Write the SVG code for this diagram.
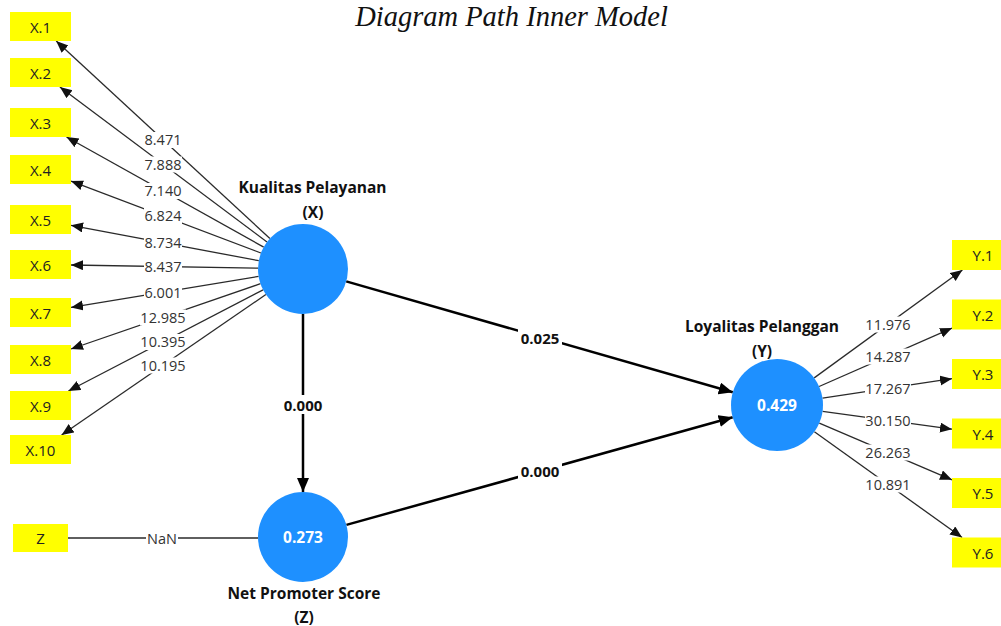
<svg xmlns="http://www.w3.org/2000/svg" width="1001" height="626" viewBox="0 0 1001 626">
<style>
.bg{fill:#ffffff}
.box{fill:#ffff00}
.lv{fill:#1e90ff}
.bt{font-family:"Open Sans","Noto Sans",sans-serif;font-size:15px;fill:#222;text-anchor:middle;dominant-baseline:central}
.ind{stroke:#2a2a2a;stroke-width:1.3;fill:none}
.str{stroke:#000;stroke-width:2.5;fill:none}
.il{font-family:"Open Sans","Noto Sans",sans-serif;font-size:14.5px;fill:#333;text-anchor:middle;dominant-baseline:central}
.sl{font-family:"Open Sans","Noto Sans",sans-serif;font-size:15px;font-weight:bold;fill:#111;text-anchor:middle;dominant-baseline:central}
.nt{font-family:"Open Sans","Noto Sans",sans-serif;font-size:15.5px;font-weight:bold;fill:#111;text-anchor:middle;dominant-baseline:central}
.nv{font-family:"Open Sans","Noto Sans",sans-serif;font-size:15.5px;font-weight:bold;fill:#fff;text-anchor:middle;dominant-baseline:central}
.lb{fill:#fff}
.title{font-family:"Liberation Serif","Times New Roman",serif;font-style:italic;font-size:28.5px;fill:#111;text-anchor:middle}
</style>
<defs>
<marker id="ah" markerUnits="userSpaceOnUse" markerWidth="13" markerHeight="11" refX="12" refY="5" orient="auto">
<path d="M0,0 L12,5 L0,10 z" fill="#111"/>
</marker>
<marker id="ahs" markerUnits="userSpaceOnUse" markerWidth="15" markerHeight="13" refX="14" refY="6" orient="auto">
<path d="M0,0 L14,6 L0,12 z" fill="#000"/>
</marker>
</defs>
<rect class="bg" x="0" y="0" width="1001" height="626"/>
<text class="title" x="511.5" y="26">Diagram Path Inner Model</text>

<g id="connectors">
<!-- X indicators -->
<path class="ind" d="M269.9,238.5 L56.2,41" marker-end="url(#ah)"/>
<rect class="lb" x="144" y="132" width="38" height="16"/><text class="il" x="163" y="139.7">8.471</text>
<path class="ind" d="M267.0,242.0 L59.9,87" marker-end="url(#ah)"/>
<rect class="lb" x="144" y="156.5" width="38" height="16"/><text class="il" x="163" y="164.2">7.888</text>
<path class="ind" d="M263.7,247.1 L66.5,137" marker-end="url(#ah)"/>
<rect class="lb" x="144" y="183" width="38" height="16"/><text class="il" x="163" y="190.9">7.140</text>
<path class="ind" d="M260.9,253.0 L71,181.1" marker-end="url(#ah)"/>
<rect class="lb" x="144" y="208" width="38" height="16"/><text class="il" x="163" y="215.9">6.824</text>
<path class="ind" d="M258.8,260.7 L71,225.3" marker-end="url(#ah)"/>
<rect class="lb" x="144" y="235" width="38" height="16"/><text class="il" x="163" y="242.6">8.734</text>
<path class="ind" d="M258,268.2 L71,265" marker-end="url(#ah)"/>
<rect class="lb" x="144" y="259" width="38" height="16"/><text class="il" x="163" y="266.6">8.437</text>
<path class="ind" d="M258.6,276.4 L71,307.4" marker-end="url(#ah)"/>
<rect class="lb" x="144" y="284.5" width="38" height="16"/><text class="il" x="163" y="292.2">6.001</text>
<path class="ind" d="M260.5,283.7 L71,349" marker-end="url(#ah)"/>
<rect class="lb" x="140" y="309.5" width="46" height="16"/><text class="il" x="163" y="317.3">12.985</text>
<path class="ind" d="M263.1,289.8 L68.4,391" marker-end="url(#ah)"/>
<rect class="lb" x="140" y="334" width="46" height="16"/><text class="il" x="163" y="341.8">10.395</text>
<path class="ind" d="M265.9,294.5 L61.6,435" marker-end="url(#ah)"/>
<rect class="lb" x="140" y="357.5" width="46" height="16"/><text class="il" x="163" y="365.3">10.195</text>

<!-- Z indicator -->
<path class="ind" d="M68,538 L258,538"/>
<rect class="lb" x="146" y="530" width="32" height="16"/><text class="il" x="162" y="538">NaN</text>

<!-- Y indicators -->
<path class="ind" d="M814.2,377.9 L962.4,270" marker-end="url(#ah)"/>
<rect class="lb" x="865" y="316.5" width="46" height="16"/><text class="il" x="888" y="324.2">11.976</text>
<path class="ind" d="M819.1,386.5 L952,328.1" marker-end="url(#ah)"/>
<rect class="lb" x="865" y="348.5" width="46" height="16"/><text class="il" x="888" y="356.2">14.287</text>
<path class="ind" d="M822.5,398.2 L952,378.7" marker-end="url(#ah)"/>
<rect class="lb" x="865" y="380.5" width="46" height="16"/><text class="il" x="888" y="388.3">17.267</text>
<path class="ind" d="M822.6,411.3 L952,429.2" marker-end="url(#ah)"/>
<rect class="lb" x="865" y="412.5" width="46" height="16"/><text class="il" x="888" y="420.4">30.150</text>
<path class="ind" d="M819.3,423.1 L952,479.8" marker-end="url(#ah)"/>
<rect class="lb" x="865" y="444.5" width="46" height="16"/><text class="il" x="888" y="452.4">26.263</text>
<path class="ind" d="M814.4,431.8 L962.1,537.5" marker-end="url(#ah)"/>
<rect class="lb" x="865" y="476.5" width="46" height="16"/><text class="il" x="888" y="484.5">10.891</text>

<!-- structural paths -->
<path class="str" d="M303,314 L303,492" marker-end="url(#ahs)"/>
<rect class="lb" x="281" y="395" width="44" height="19"/><text class="sl" x="303" y="404.5">0.000</text>
<path class="str" d="M346.2,281.4 L732.8,392.3" marker-end="url(#ahs)"/>
<rect class="lb" x="518" y="328" width="44" height="19"/><text class="sl" x="540" y="337.5">0.025</text>
<path class="str" d="M346.4,524.9 L732.7,417.3" marker-end="url(#ahs)"/>
<rect class="lb" x="518" y="462" width="44" height="19"/><text class="sl" x="540" y="471">0.000</text>
</g>

<g id="node-X1"><rect class="box" x="10" y="12" width="61" height="29"/><text class="bt" x="40.5" y="26.5">X.1</text></g>
<g id="node-X2"><rect class="box" x="10" y="58" width="61" height="29"/><text class="bt" x="40.5" y="72.5">X.2</text></g>
<g id="node-X3"><rect class="box" x="10" y="108" width="61" height="29"/><text class="bt" x="40.5" y="122.5">X.3</text></g>
<g id="node-X4"><rect class="box" x="10" y="155" width="61" height="29"/><text class="bt" x="40.5" y="169.5">X.4</text></g>
<g id="node-X5"><rect class="box" x="10" y="205" width="61" height="29"/><text class="bt" x="40.5" y="219.5">X.5</text></g>
<g id="node-X6"><rect class="box" x="10" y="250" width="61" height="29"/><text class="bt" x="40.5" y="264.5">X.6</text></g>
<g id="node-X7"><rect class="box" x="10" y="298" width="61" height="29"/><text class="bt" x="40.5" y="312.5">X.7</text></g>
<g id="node-X8"><rect class="box" x="10" y="345" width="61" height="29"/><text class="bt" x="40.5" y="359.5">X.8</text></g>
<g id="node-X9"><rect class="box" x="10" y="391" width="61" height="29"/><text class="bt" x="40.5" y="405.5">X.9</text></g>
<g id="node-X10"><rect class="box" x="10" y="435" width="61" height="29"/><text class="bt" x="40.5" y="449.5">X.10</text></g>

<g id="node-Z-ind"><rect class="box" x="13" y="524" width="55" height="28"/><text class="bt" x="40.5" y="538">Z</text></g>

<g id="node-Y1"><rect class="box" x="952" y="240" width="62" height="30"/><text class="bt" x="983" y="255">Y.1</text></g>
<g id="node-Y2"><rect class="box" x="952" y="299.5" width="62" height="30"/><text class="bt" x="983" y="314.5">Y.2</text></g>
<g id="node-Y3"><rect class="box" x="952" y="359" width="62" height="30"/><text class="bt" x="983" y="374">Y.3</text></g>
<g id="node-Y4"><rect class="box" x="952" y="418.5" width="62" height="30"/><text class="bt" x="983" y="433.5">Y.4</text></g>
<g id="node-Y5"><rect class="box" x="952" y="478" width="62" height="30"/><text class="bt" x="983" y="493">Y.5</text></g>
<g id="node-Y6"><rect class="box" x="952" y="537.5" width="62" height="30"/><text class="bt" x="983" y="552.5">Y.6</text></g>

<g id="node-X">
<circle class="lv" cx="303" cy="269" r="45"/>
<text class="nt" x="312.5" y="187">Kualitas Pelayanan</text>
<text class="nt" x="313" y="212">(X)</text>
</g>
<g id="node-Z">
<circle class="lv" cx="303" cy="537" r="45"/>
<text class="nv" x="303" y="537">0.273</text>
<text class="nt" x="304" y="593">Net Promoter Score</text>
<text class="nt" x="304" y="617">(Z)</text>
</g>
<g id="node-Y">
<circle class="lv" cx="777" cy="405" r="46"/>
<text class="nv" x="777" y="405">0.429</text>
<text class="nt" x="762" y="326">Loyalitas Pelanggan</text>
<text class="nt" x="762" y="351">(Y)</text>
</g>
</svg>
